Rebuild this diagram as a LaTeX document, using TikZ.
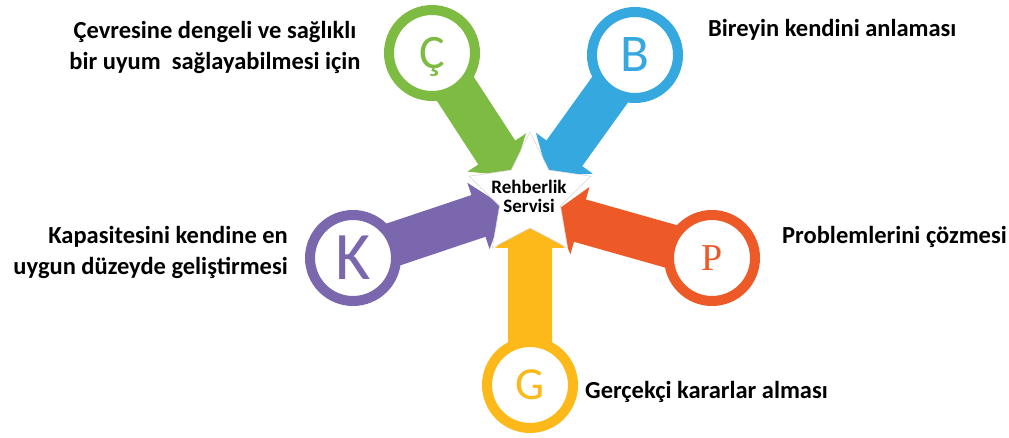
\documentclass[tikz,border=0pt]{standalone}
\usepackage{fontspec}
\setmainfont{Carlito}
\newfontfamily\serifP{Liberation Serif}
\usetikzlibrary{calc,backgrounds}
\definecolor{cgreen}{RGB}{125,187,66}
\definecolor{cblue}{RGB}{53,168,224}
\definecolor{cpurple}{RGB}{123,103,174}
\definecolor{corange}{RGB}{238,89,40}
\definecolor{cyellow}{RGB}{253,184,25}
\tikzset{
  ring/.style={circle, draw=#1, fill=white, line width=10pt, minimum size=86pt, inner sep=0pt, text=#1},
  lbl/.style={font=\bfseries\fontsize{24.5}{31}\selectfont, text=black, inner sep=0pt},
  starbox/.style={fill=white, draw=gray!30, line width=0.6pt},
}
\newcommand\fatarrow[2]{%
  \coordinate (b#1) at ($(t#1)!28pt!(c#1.center)$);
  \fill[#2] ($(c#1.center)!22pt!90:(t#1)$) -- ($(b#1)!22pt!90:(t#1)$) -- ($(b#1)!35pt!90:(t#1)$) -- (t#1)
    -- ($(b#1)!35pt!-90:(t#1)$) -- ($(b#1)!22pt!-90:(t#1)$) -- ($(c#1.center)!22pt!-90:(t#1)$) -- cycle;}
\begin{document}
\begin{tikzpicture}[x=1pt,y=-1pt]
\useasboundingbox (0,0) rectangle (1009,438);
% circles
\node[ring=cgreen, font=\fontsize{48}{48}\selectfont, text depth=0pt] (cC) at (432,53) {Ç};
\node[ring=cblue, font=\fontsize{53}{53}\selectfont] (cB) at (635,55) {B};
\node[ring=cpurple, font=\fontsize{68}{68}\selectfont] (cK) at (353,258) {K};
\node[ring=corange, font=\serifP\fontsize{38}{38}\selectfont] (cP) at (712,258) {P};
\node[ring=cyellow, font=\fontsize{46}{46}\selectfont] (cG) at (530,385) {G};
% tips
\coordinate (tC) at (512,176);
\coordinate (tB) at (548,176);
\coordinate (tK) at (505,207);
\coordinate (tP) at (553,213);
\coordinate (tG) at (530,220);
\begin{scope}[on background layer]
\fatarrow{C}{cgreen}
\fatarrow{B}{cblue}
\fatarrow{K}{cpurple}
\fatarrow{P}{corange}
\fatarrow{G}{cyellow}
\end{scope}
% star
\coordinate (st) at (530,196);
\path[starbox] ($(st)+(-90:64)$) -- ($(st)+(-54:32)$) -- ($(st)+(-18:64)$) -- ($(st)+(18:32)$)
  -- ($(st)+(54:64)$) -- ($(st)+(90:32)$) -- ($(st)+(126:64)$) -- ($(st)+(162:32)$)
  -- ($(st)+(198:64)$) -- ($(st)+(234:32)$) -- cycle;
\node[font=\bfseries\fontsize{19}{19}\selectfont, align=center, inner sep=0pt] (center) at (529,196) {Rehberlik\\Servisi};
% labels
\node[lbl, align=center] (lC) at (215,47.5) {Çevresine dengeli ve sağlıklı\\bir uyum\ \ sağlayabilmesi için};
\node[lbl, anchor=west] (lB) at (708,30) {Bireyin kendini anlaması};
\node[lbl, align=right, anchor=east] (lK) at (288,252) {Kapasitesini kendine en\\uygun düzeyde geliştirmesi};
\node[lbl, anchor=west] (lP) at (782,237) {Problemlerini çözmesi};
\node[lbl, anchor=west] (lG) at (585,392) {Gerçekçi kararlar alması};
\end{tikzpicture}
\end{document}
